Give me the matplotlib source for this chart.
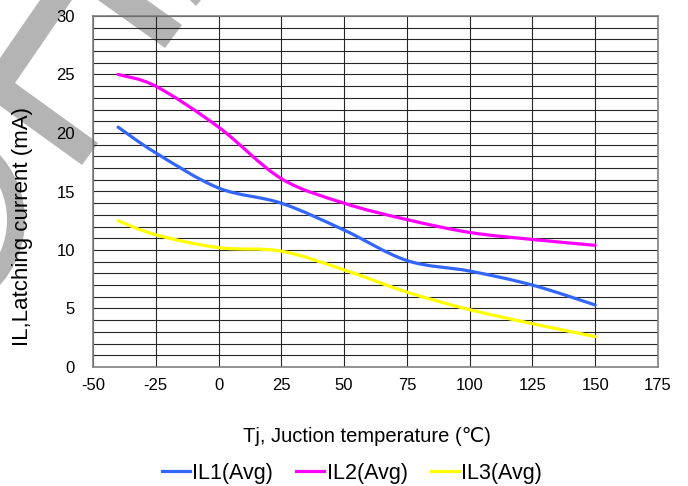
import numpy as np
import matplotlib
matplotlib.use("Agg")
import matplotlib.pyplot as plt
from matplotlib.path import Path
from matplotlib.patches import PathPatch, Polygon, Wedge
from matplotlib.lines import Line2D
from matplotlib.transforms import IdentityTransform

plt.rcParams['font.family'] = ['Liberation Sans', 'DejaVu Sans', 'Noto Sans CJK SC']
plt.rcParams['axes.unicode_minus'] = False

# data
temps = [-40, -25, 0, 25, 50, 75, 100, 125, 150]
il1 = [20.5, 18.3, 15.3, 14.0, 11.7, 9.1, 8.2, 7.0, 5.3]
il2 = [25.0, 24.0, 20.5, 16.1, 14.0, 12.6, 11.5, 10.9, 10.4]
il3 = [12.5, 11.3, 10.2, 9.9, 8.3, 6.4, 4.9, 3.7, 2.6]
series_names = ["IL1(Avg)", "IL2(Avg)", "IL3(Avg)"]
series_colors = ["#3366ff", "#ff00ff", "#ffff00"]


def smooth_path(xs, ys):
    # excel-like smoothed line: cubic bezier through the points
    pts = np.column_stack([xs, ys]).astype(float)
    n = len(pts)
    verts = [pts[0]]
    codes = [Path.MOVETO]
    for i in range(n - 1):
        p0 = pts[i - 1] if i > 0 else pts[i]
        p1 = pts[i]
        p2 = pts[i + 1]
        p3 = pts[i + 2] if i + 2 < n else pts[i + 1]
        c1 = p1 + (p2 - p0) / 6.0
        c2 = p2 - (p3 - p1) / 6.0
        verts += [c1, c2, p2]
        codes += [Path.CURVE4] * 3
    return Path(verts, codes)


fig = plt.figure(figsize=(6.88, 4.86), dpi=100)
ax = fig.add_axes([93 / 688, 1 - 367 / 486, 565 / 688, 351 / 486])
ax.set_facecolor("none")

# watermark shapes (grey, behind chart)
H = 486
wm = "#b4b4b4"
def px(pts):
    return [(x, H - y) for x, y in pts]
fig.patches.append(Polygon(px([(40, 0), (72, 0), (15, 83), (98, 143), (82, 165), (-22, 90)]),
                           closed=True, color=wm, lw=0, transform=IdentityTransform(), zorder=-5))
fig.patches.append(Polygon(px([(98, 0), (147, 0), (182, 25), (165, 48)]),
                           closed=True, color=wm, lw=0, transform=IdentityTransform(), zorder=-5))
fig.patches.append(Polygon(px([(190, 0), (201, 0), (196, 6)]),
                           closed=True, color=wm, lw=0, transform=IdentityTransform(), zorder=-5))
fig.patches.append(Wedge((-72, H - 220), 97, -90, 90, width=18, color=wm, lw=0,
                         transform=IdentityTransform(), zorder=-5))

for ys, c in zip([il1, il2, il3], series_colors):
    ax.add_patch(PathPatch(smooth_path(temps, ys), facecolor="none", edgecolor=c,
                           lw=2.3, capstyle="round", zorder=3))

ax.set_xlim(-50, 175)
ax.set_ylim(0, 30)
ax.set_xticks(np.arange(-50, 176, 25))
ax.set_yticks(np.arange(0, 31, 5))
ax.set_yticks(np.arange(0, 31, 1), minor=True)
ax.grid(True, which="major", color="#262626", lw=0.8)
ax.grid(True, which="minor", axis="y", color="#262626", lw=0.8)
ax.tick_params(which="both", length=0)
ax.tick_params(axis="y", pad=13, labelsize=12)
ax.tick_params(axis="x", pad=8, labelsize=12)
for s in ax.spines.values():
    s.set_color("#808080")
    s.set_linewidth(1.2)

fig.text(367 / 688, 1 - 436 / 486, "Tj, Juction temperature (℃)", ha="center", va="center", fontsize=14.5)
fig.text(23 / 688, 1 - 226 / 486, "IL,Latching current (mA)", ha="center", va="center",
         rotation=90, fontsize=16)

handles = [Line2D([0], [0], color=c, lw=2.3) for c in series_colors]
fig.legend(handles, series_names, loc="center", bbox_to_anchor=(352 / 688, 1 - 473 / 486),
           ncol=3, frameon=False, fontsize=15.5, handlelength=1.3, handletextpad=0.1,
           columnspacing=1.1)

plt.savefig("out.png", dpi=100)
